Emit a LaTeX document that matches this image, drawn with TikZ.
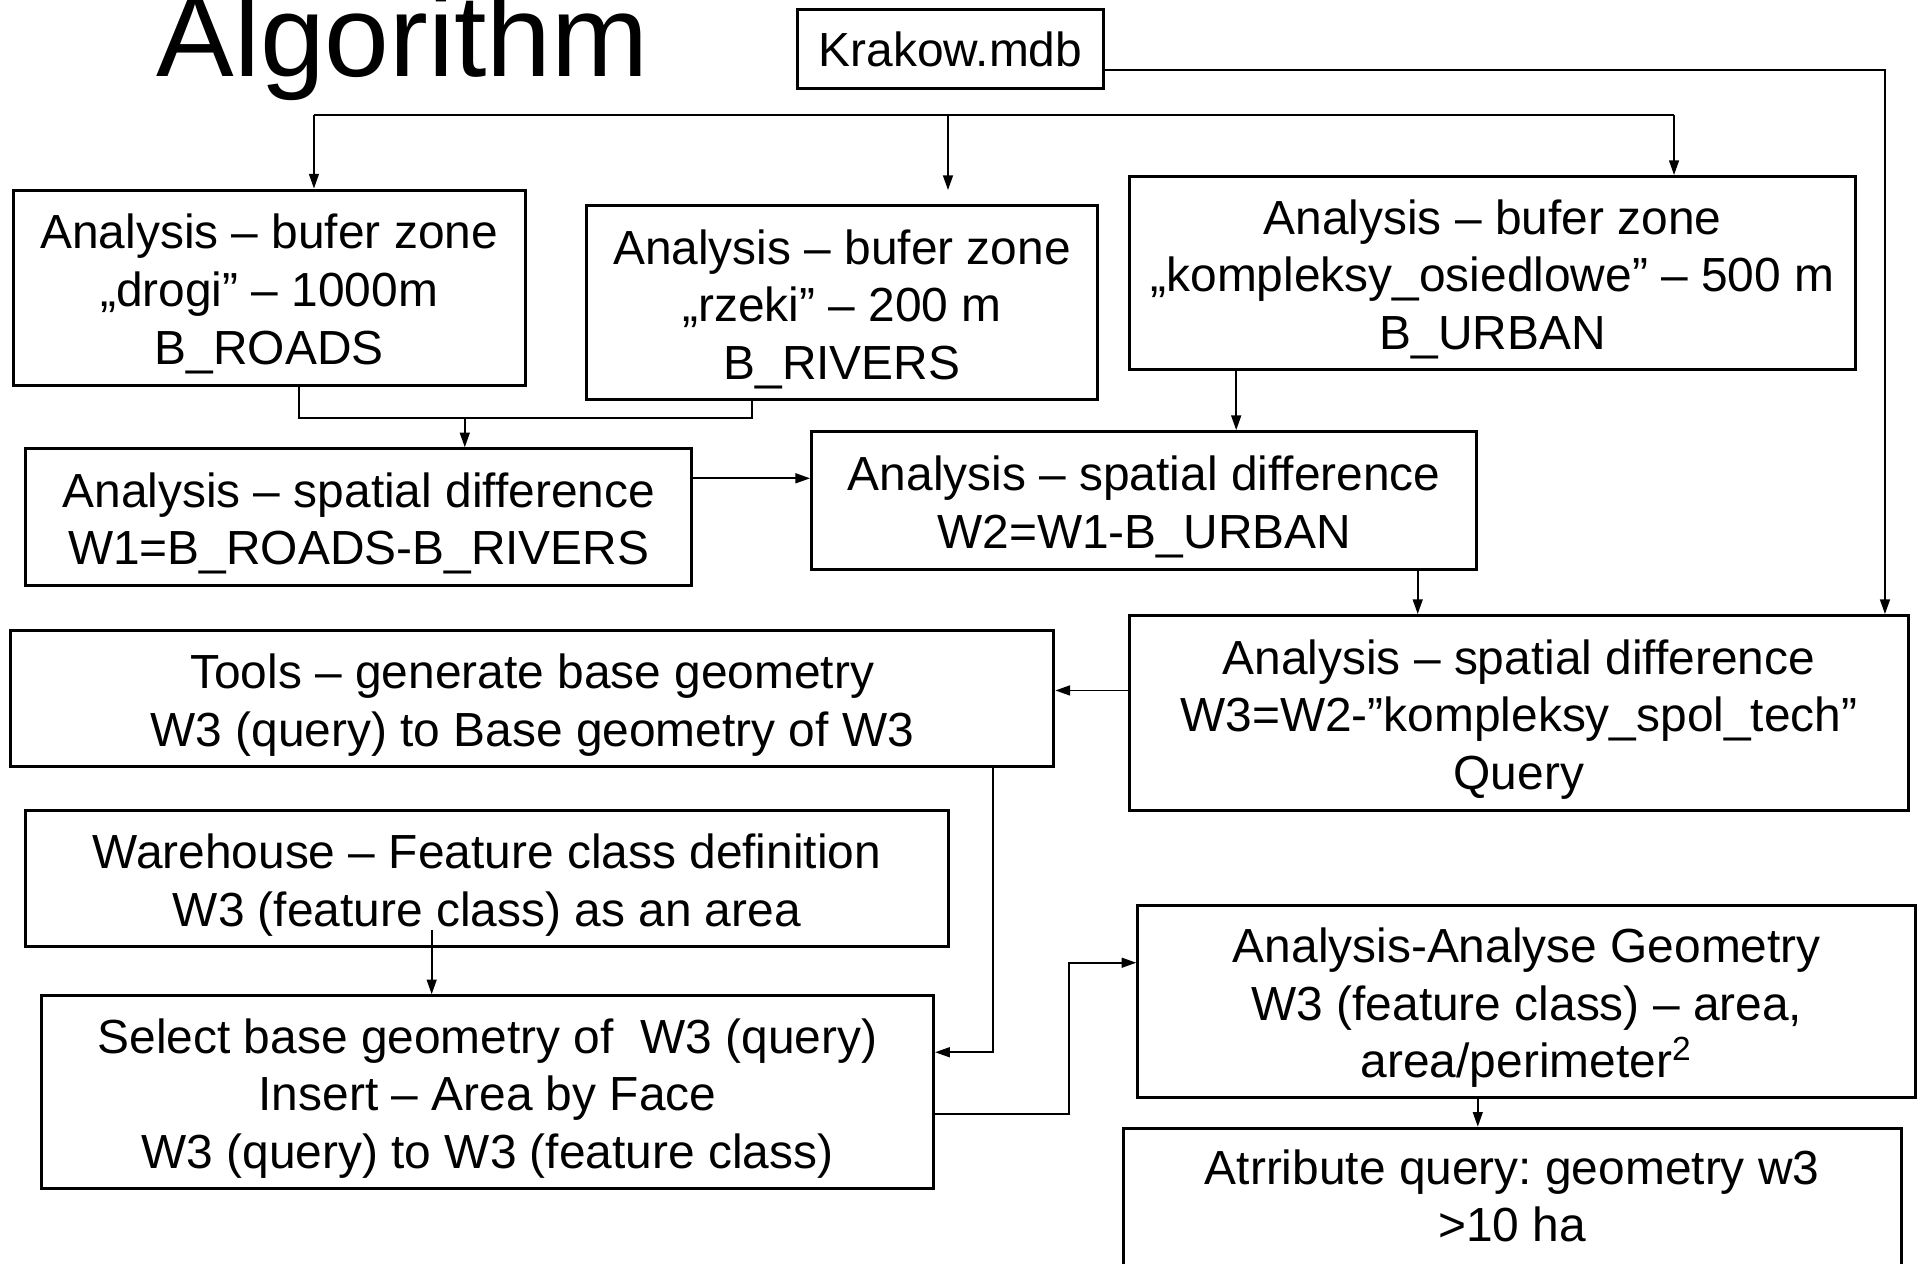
\documentclass[tikz,border=0pt]{standalone}
\usepackage{fontspec}
\setmainfont{Liberation Sans}
\usetikzlibrary{arrows.meta}
\newcommand{\fstrut}{\rule{0pt}{11pt}}
\frenchspacing
\begin{document}
\begin{tikzpicture}[x=0.01cm,y=-0.01cm,
  box/.style={draw,line width=0.7pt,inner sep=0pt,align=center,
    font=\fontsize{11.1pt}{13.37pt}\selectfont},
  line/.style={line width=0.45pt},
  arr/.style={line width=0.45pt,-{Triangle[length=0.12cm,width=0.08cm]}}]
\useasboundingbox (0,0) rectangle (1568,1030);
% title
\node[anchor=base west,inner sep=0pt,font=\fontsize{27pt}{30pt}\selectfont] (title) at (127,62) {Algorithm};
% boxes
\node[box,minimum width=2.50cm,minimum height=0.64cm] (krakow) at (775,40) {Krakow.mdb};
\node[box,minimum width=4.17cm,minimum height=1.59cm] (drogi) at (219.5,234.5) {\fstrut Analysis – bufer zone\\„drogi” – 1000m\\B\_ROADS};
\node[box,minimum width=4.17cm,minimum height=1.58cm] (rzeki) at (686.5,247) {\fstrut Analysis – bufer zone\\„rzeki” – 200 m\\B\_RIVERS};
\node[box,minimum width=5.92cm,minimum height=1.57cm] (urban) at (1217,222.5) {\fstrut Analysis – bufer zone\\„kompleksy\_osiedlowe” – 500 m\\B\_URBAN};
\node[box,minimum width=5.43cm,minimum height=1.11cm] (w1) at (292.5,421.5) {\fstrut Analysis – spatial difference\\W1=B\_ROADS-B\_RIVERS};
\node[box,minimum width=5.42cm,minimum height=1.12cm] (w2) at (933,408) {\fstrut Analysis – spatial difference\\W2=W1-B\_URBAN};
\node[box,minimum width=6.35cm,minimum height=1.59cm] (w3) at (1238.5,581.5) {\fstrut Analysis – spatial difference\\W3=W2-”kompleksy\_spol\_tech”\\Query};
\node[box,minimum width=8.50cm,minimum height=1.11cm] (tools) at (434,569.5) {\fstrut Tools – generate base geometry\\W3 (query) to Base geometry of W3};
\node[box,minimum width=7.52cm,minimum height=1.11cm] (wareh) at (397,716.5) {\fstrut Warehouse – Feature class definition\\W3 (feature class) as an area};
\node[box,minimum width=7.27cm,minimum height=1.57cm] (select) at (397.5,890.5) {\fstrut Select base geometry of\ \ W3 (query)\\Insert – Area by Face\\W3 (query) to W3 (feature class)};
\node[box,minimum width=6.34cm,minimum height=1.57cm] (geom) at (1245,816.5) {\fstrut Analysis-Analyse Geometry\\W3 (feature class) – area,\\area/perimeter\textsuperscript{2}};
\node[box,minimum width=6.34cm,minimum height=1.57cm] (attr) at (1233,998.5) {Atrribute query: geometry w3\\>10 ha\\\mbox{}};
% coordinates
\coordinate (t1) at (256,94);
\coordinate (t2) at (1365,94);
\coordinate (t3) at (773,94);
\coordinate (m3) at (773,155);
\coordinate (k1) at (1537,57);
\coordinate (j1) at (244,341);
\coordinate (j2) at (613,341);
\coordinate (j3) at (379,341);
\coordinate (u) at (1008,0);
\coordinate (v) at (0,390);
\coordinate (w) at (1156,0);
\coordinate (q) at (0,563);
\coordinate (c) at (810,858);
\coordinate (wh) at (352,758);
\coordinate (s1) at (872,908);
\coordinate (s2) at (872,785);
\coordinate (g) at (1205,0);
% connectors
\draw[line] (t1) -- (t2);
\draw[arr] (t1) -- (drogi.north -| t1);
\draw[arr] (t3) -- (m3);
\draw[arr] (t2) -- (urban.north -| t2);
\draw[arr] (krakow.east |- k1) -- (k1) -- (w3.north -| k1);
\draw[line] (drogi.south -| j1) -- (j1) -- (j2) -- (rzeki.south -| j2);
\draw[arr] (j3) -- (w1.north -| j3);
\draw[arr] (urban.south -| u) -- (w2.north -| u);
\draw[arr] (w1.east |- v) -- (w2.west |- v);
\draw[arr] (w2.south -| w) -- (w3.north -| w);
\draw[arr] (w3.west |- q) -- (tools.east |- q);
\draw[arr] (tools.south -| c) -- (c) -- (select.east |- c);
\draw[arr] (wh) -- (select.north -| wh);
\draw[arr] (select.east |- s1) -- (s1) -- (s2) -- (geom.west |- s2);
\draw[arr] (geom.south -| g) -- (attr.north -| g);
\end{tikzpicture}
\end{document}
